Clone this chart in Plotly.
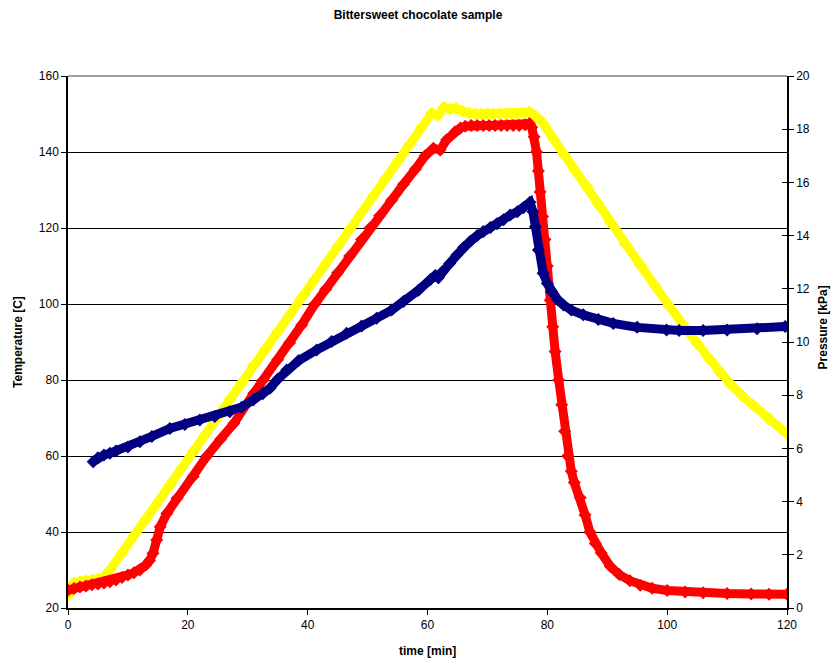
import plotly.graph_objects as go

# ---- data ----
yellow_t = [0, 0.5, 1, 2, 3, 4, 5, 6, 7, 9, 11, 13, 15, 17, 19, 21, 23, 25, 27, 29, 31, 33, 35,
            37, 39, 41, 43, 45, 47, 49, 51, 53, 55, 57, 59, 60.7, 61.7, 62.8, 63.8, 64.8, 65.9,
            67, 68, 69, 70, 71, 72, 73, 74, 75, 76, 77, 78, 79.3, 81, 82.7, 84.5, 86.6, 88.5,
            90.5, 93, 95.5, 98, 100.2, 102.7, 105, 107, 108.8, 110.5, 112.5, 114.4, 117, 120]
yellow_T = [23.5, 25.5, 26.5, 27, 27.2, 27.3, 27.6, 28.3, 30, 34.5, 39, 43.4, 47.9, 52.4, 56.9,
            61.4, 65.8, 70.3, 74.8, 79.3, 83.8, 88.2, 92.7, 97.2, 101.7, 106.2, 110.6, 115.1,
            119.6, 124.1, 128.6, 133, 137.5, 142, 146.5, 150.2, 149.7, 151.8, 151.3, 151.5,
            150.7, 150.2, 150, 150, 150, 150, 150, 150, 150, 150, 150.2, 150.5, 149.5, 147.5,
            143.5, 139.5, 135.3, 130.9, 126.3, 121.5, 115.8, 110.3, 104.7, 99.6, 94.4, 89.6,
            85.6, 82, 79, 75.9, 73.2, 69.6, 65.8]

red_t = [0, 1, 2, 3, 4, 5, 6, 7, 8, 9, 10, 11, 12, 13, 13.6, 14.2, 14.8, 15.4, 16.5, 18.2,
         20.9, 23.2, 25.5, 27.7, 31, 32.6, 35, 37, 39, 41.2, 43, 45, 47, 49, 50.4, 52, 54, 56,
         58, 59.6, 61, 62.1, 63.2, 64.6, 65.5, 66.3, 67.3, 68.3, 69.3, 70.3, 71.3, 72.3, 73.3,
         74.3, 75.3, 76.3, 77, 77.4, 77.8, 78.2, 78.5, 78.8, 79.2, 79.6, 80, 80.5, 80.9, 81.3,
         81.9, 82.4, 82.9, 83.4, 84, 84.5, 85.5, 86.3, 87.1, 88, 89, 90.5, 92, 93.8, 95.5,
         97.5, 100, 103, 106, 110, 114, 117, 120]
red_T = [24.7, 25.1, 25.5, 25.8, 26.1, 26.3, 26.6, 26.9, 27.4, 28, 28.7, 29.3, 30, 31.3, 32.5,
         34.4, 37.9, 41.4, 44.9, 48.9, 54.6, 60, 64.5, 68.6, 76.5, 80, 85.3, 89.8, 94.5, 100,
         103.9, 108.2, 112.6, 117, 120, 123.2, 127.3, 131.5, 135.5, 139, 141, 140.5, 143.2,
         145.3, 146.3, 146.8, 147, 147, 147, 147, 147, 147, 147, 147, 147, 147.2, 147.5,
         146.5, 144, 140, 135, 129.5, 123, 117, 110, 101, 94, 87.5, 80, 73.5, 66.5, 60, 56,
         53, 49, 44.5, 40, 37, 34.5, 31, 28.8, 27.2, 26, 25.2, 24.6, 24.2, 24, 23.8, 23.7,
         23.6, 23.6]

blue_t = [4.2, 5, 6, 7, 8, 10, 12, 14, 17, 19.5, 22, 24.5, 27, 29, 30.9, 32.5, 33.7, 35, 36.5,
          38.5, 41.5, 44, 46.5, 49, 51.5, 54, 56, 58.5, 60.5, 61.3, 61.8, 62.5, 63.7, 64.9,
          66, 67.2, 68.3, 69.3, 70.5, 71.6, 72.7, 73.8, 75, 76, 77.1, 77.6, 78, 78.5, 79.3,
          80, 80.7, 81.7, 82.7, 84, 86, 88.5, 91, 95, 99.9, 102, 106, 110, 115, 119.7]
blue_P = [5.5, 5.65, 5.75, 5.82, 5.9, 6.05, 6.25, 6.45, 6.75, 6.9, 7.07, 7.2, 7.38, 7.55, 7.82,
          8.05, 8.26, 8.6, 8.95, 9.3, 9.7, 10.02, 10.33, 10.6, 10.89, 11.2, 11.52, 11.95,
          12.35, 12.5, 12.42, 12.65, 12.95, 13.27, 13.55, 13.8, 14.0, 14.15, 14.3, 14.45, 14.6,
          14.77, 14.9, 15.05, 15.25, 14.9, 14.33, 13.46, 12.58, 12.2, 11.89, 11.6, 11.39, 11.2,
          11.02, 10.85, 10.7, 10.55, 10.45, 10.43, 10.43, 10.45, 10.5, 10.58]

x_ticks = [0, 20, 40, 60, 80, 100, 120]
y_ticks = [20, 40, 60, 80, 100, 120, 140, 160]
y2_ticks = [0, 2, 4, 6, 8, 10, 12, 14, 16, 18, 20]

FONT = "Arial, Liberation Sans, sans-serif"

fig = go.Figure()


def add_series(t, v, color, yaxis):
    fig.add_trace(go.Scatter(
        x=t, y=v, mode="lines+markers", yaxis=yaxis,
        line=dict(color=color, width=9),
        marker=dict(symbol="diamond", size=10, color=color, line=dict(width=0)),
        showlegend=False, hoverinfo="skip"))


add_series(yellow_t, yellow_T, "#FFFF00", "y")
add_series(red_t, red_T, "#FF0000", "y")
add_series(blue_t, blue_P, "#000080", "y2")

fig.update_layout(
    width=836, height=662,
    margin=dict(l=68, r=49, t=76, b=54),
    paper_bgcolor="white", plot_bgcolor="white",
    font=dict(family=FONT, size=12, color="black"),
    title=dict(text="<b>Bittersweet chocolate sample</b>", x=0.5, xref="container",
               xanchor="center", y=1 - 15 / 662, yref="container", yanchor="middle",
               font=dict(size=12, family=FONT)),
    xaxis=dict(range=[0, 120], tickvals=x_ticks, ticks="outside", ticklen=5,
               tickcolor="black", showline=True, linecolor="black", linewidth=1.5,
               showgrid=False, zeroline=False, tickfont=dict(size=12)),
    yaxis=dict(range=[20, 160], tickvals=y_ticks, ticks="outside", ticklen=5,
               tickcolor="black", showline=True, linecolor="black", linewidth=1.5,
               showgrid=True, gridcolor="black", gridwidth=1, zeroline=False,
               tickfont=dict(size=12)),
    yaxis2=dict(range=[0, 20], tickvals=y2_ticks, overlaying="y", side="right",
                ticks="outside", ticklen=5, tickcolor="black", showline=True,
                linecolor="black", linewidth=1.5, showgrid=False, zeroline=False,
                tickfont=dict(size=12)),
    yaxis3=dict(range=[0, 20], tickvals=y2_ticks, overlaying="y", side="right",
                ticks="inside", ticklen=5, tickcolor="black", showticklabels=False,
                showgrid=False, zeroline=False, showline=False),
    shapes=[dict(type="line", xref="paper", yref="paper", x0=0, x1=1, y0=1, y1=1,
                 line=dict(color="#808080", width=1.5))],
    annotations=[
        dict(text="<b>Temperature [C]</b>", xref="paper", yref="paper", x=-0.0696, y=0.5,
             textangle=-90, showarrow=False, xanchor="center", yanchor="middle",
             font=dict(size=12, family=FONT)),
        dict(text="<b>Pressure [kPa]</b>", xref="paper", yref="paper", x=1.0505, y=0.528,
             textangle=-90, showarrow=False, xanchor="center", yanchor="middle",
             font=dict(size=12, family=FONT)),
        dict(text="<b>time [min]</b>", xref="paper", yref="paper", x=0.5, y=-0.0808,
             showarrow=False, xanchor="center", yanchor="middle",
             font=dict(size=12, family=FONT)),
    ],
)
# invisible trace to activate yaxis3 (ticks crossing the right axis)
fig.add_trace(go.Scatter(x=[None], y=[None], yaxis="y3", showlegend=False, hoverinfo="skip"))

fig.write_html("out.html")
